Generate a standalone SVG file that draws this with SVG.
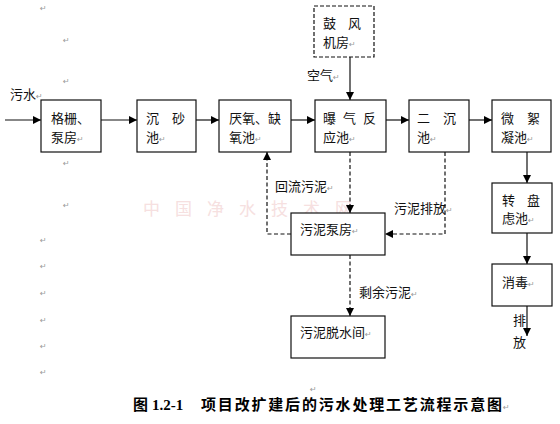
<svg xmlns="http://www.w3.org/2000/svg" width="560" height="424" viewBox="0 0 560 424">
<defs>
<marker id="ah" viewBox="0 0 10 10" refX="10" refY="5" markerWidth="8" markerHeight="8" markerUnits="userSpaceOnUse" orient="auto">
<path d="M0,0 L10,5 L0,10 z" fill="#000"/>
</marker>
<style>
text{font-family:"Noto Sans CJK SC","Liberation Sans",sans-serif;font-size:13px;fill:#111}
.box{fill:#fff;stroke:#111;stroke-width:1.2}
.dbox{fill:#fff;stroke:#111;stroke-width:1.2;stroke-dasharray:4,2}
.ln{fill:none;stroke:#111;stroke-width:1.2;marker-end:url(#ah)}
.dl{fill:none;stroke:#111;stroke-width:1.2;stroke-dasharray:4,2.5;marker-end:url(#ah)}
.rm{font-family:"DejaVu Sans",sans-serif;font-size:8px;fill:#999}
.wm{font-size:17px;fill:#f6e0e0;letter-spacing:15px}
.cap{font-size:15px;font-weight:bold;fill:#000}
.capn{font-family:"Liberation Serif",serif;font-size:15px;font-weight:bold;fill:#000}
</style>
</defs>
<rect width="560" height="424" fill="#fff"/>
<text class="wm" x="143" y="215">中国净水技术网</text>
<g id="marks">
<text class="rm" x="40" y="11">↵</text>
<text class="rm" x="63" y="43">↵</text>
<text class="rm" x="63" y="84">↵</text>
<text class="rm" x="63" y="166">↵</text>
<text class="rm" x="63" y="208">↵</text>
<text class="rm" x="40" y="243">↵</text>
<text class="rm" x="40" y="269">↵</text>
<text class="rm" x="40" y="296">↵</text>
<text class="rm" x="40" y="323">↵</text>
<text class="rm" x="40" y="349">↵</text>
<text class="rm" x="40" y="375">↵</text>
<text class="rm" x="310" y="392">↵</text>
</g>
<g id="connectors">
<line class="ln" x1="5" y1="120" x2="41" y2="120"/>
<line class="ln" x1="101" y1="120" x2="137" y2="120"/>
<line class="ln" x1="196" y1="120" x2="219" y2="120"/>
<line class="ln" x1="291" y1="120" x2="315" y2="120"/>
<line class="ln" x1="386" y1="120" x2="409" y2="120"/>
<line class="ln" x1="469" y1="120" x2="492" y2="120"/>
<line class="ln" x1="350" y1="57" x2="350" y2="100"/>
<line class="dl" x1="350" y1="152" x2="350" y2="213"/>
<path class="dl" d="M445,152 V234 H385"/>
<path class="dl" d="M291,234 H267 V152"/>
<line class="dl" x1="350" y1="255" x2="350" y2="316"/>
<line class="ln" x1="527" y1="152" x2="527" y2="183"/>
<line class="ln" x1="527" y1="233" x2="527" y2="264"/>
<line class="ln" x1="527" y1="306" x2="527" y2="336"/>
<text x="10" y="99">污水<tspan class="rm">↵</tspan></text>
<text x="307" y="80">空气<tspan class="rm">↵</tspan></text>
<text x="275" y="191">回流污泥<tspan class="rm">↵</tspan></text>
<text x="394" y="213">污泥排放<tspan class="rm">↵</tspan></text>
<text x="359" y="297">剩余污泥<tspan class="rm">↵</tspan></text>
<text x="513" y="325">排</text>
<text x="513" y="347">放</text>
</g>
<g id="n-grille">
<rect class="box" x="41" y="100" width="60" height="52"/>
<text x="51" y="123">格栅、</text>
<text x="51" y="142">泵房<tspan class="rm">↵</tspan></text>
</g>
<g id="n-grit">
<rect class="box" x="137" y="100" width="59" height="52"/>
<text x="146" y="123">沉</text><text x="172" y="123">砂</text>
<text x="146" y="142">池<tspan class="rm">↵</tspan></text>
</g>
<g id="n-anoxic">
<rect class="box" x="219" y="100" width="72" height="52"/>
<text x="229" y="123">厌氧、缺</text>
<text x="229" y="142">氧池<tspan class="rm">↵</tspan></text>
</g>
<g id="n-blower">
<rect class="dbox" x="314" y="6" width="60" height="51"/>
<text x="323" y="28">鼓</text><text x="348" y="28">风</text>
<text x="323" y="47">机房<tspan class="rm">↵</tspan></text>
</g>
<g id="n-aeration">
<rect class="box" x="315" y="100" width="71" height="52"/>
<text x="323" y="123">曝</text><text x="343" y="123">气</text><text x="363" y="123">反</text>
<text x="323" y="142">应池<tspan class="rm">↵</tspan></text>
</g>
<g id="n-secondary">
<rect class="box" x="409" y="100" width="60" height="52"/>
<text x="417" y="123">二</text><text x="443" y="123">沉</text>
<text x="417" y="142">池<tspan class="rm">↵</tspan></text>
</g>
<g id="n-floc">
<rect class="box" x="492" y="100" width="59" height="52"/>
<text x="501" y="123">微</text><text x="527" y="123">絮</text>
<text x="501" y="142">凝池<tspan class="rm">↵</tspan></text>
</g>
<g id="n-pump">
<rect class="box" x="291" y="213" width="94" height="42"/>
<text x="300" y="234">污泥泵房<tspan class="rm">↵</tspan></text>
</g>
<g id="n-disc">
<rect class="box" x="492" y="183" width="60" height="50"/>
<text x="502" y="205">转</text><text x="527" y="205">盘</text>
<text x="502" y="223">虑池<tspan class="rm">↵</tspan></text>
</g>
<g id="n-disinfect">
<rect class="box" x="492" y="264" width="60" height="42"/>
<text x="502" y="287">消毒<tspan class="rm">↵</tspan></text>
</g>
<g id="n-dewater">
<rect class="box" x="291" y="316" width="94" height="42"/>
<text x="300" y="337">污泥脱水间<tspan class="rm">↵</tspan></text>
</g>
<g id="caption">
<text class="cap" x="133" y="410">图</text>
<text class="capn" x="152" y="410">1.2-1</text>
<text class="cap" x="201" y="410" textLength="301" lengthAdjust="spacing">项目改扩建后的污水处理工艺流程示意图</text>
<text class="rm" x="503" y="410">↵</text>
</g>
</svg>
